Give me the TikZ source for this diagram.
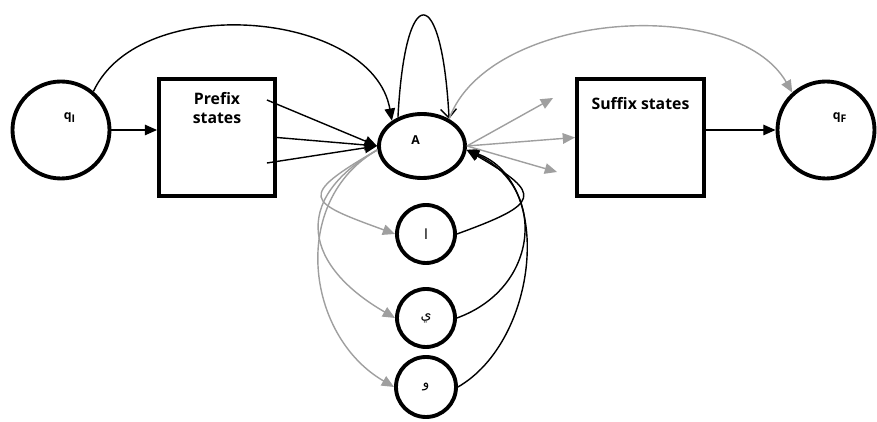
\documentclass[tikz,border=0pt]{standalone}
\usepackage{fontspec}
\setsansfont{Open Sans}
\newfontfamily\arabicfont[Script=Arabic]{DejaVu Sans}
\TeXXeTstate=1
\usetikzlibrary{automata,positioning,arrows.meta,shapes.geometric}

\tikzset{
  big state/.style={state,minimum size=1.94cm,line width=2.2pt},
  letter state/.style={state,minimum size=1.16cm,line width=2.2pt,font=\arabicfont\footnotesize},
  group/.style={draw,rectangle,line width=2.2pt,minimum height=2.34cm},
  hub/.style={draw,ellipse,line width=2.2pt,minimum width=1.72cm,minimum height=1.28cm},
  state name/.style={font=\sffamily\bfseries\scriptsize},
  group name/.style={font=\sffamily\bfseries\small,align=center},
  grey edge/.style={gray!75},
}

\begin{document}
\begin{tikzpicture}[>={Triangle[length=7pt,width=6pt]},line width=0.8pt,on grid,auto]
    \useasboundingbox (0,0) rectangle (17.54,-8.44);
    \node[big state] (qI) at (1.22,-2.6)
        [label={[state name,shift={(0.18,0.24)}]center:q{\footnotesize\textsubscript{I}}}] {};
    \node[group,minimum width=2.32cm] (pre) [below right=0.15cm and 3.12cm of qI]
        [label={[group name,below=5pt]north:Prefix\\states}] {};
    \node[hub]   (A)   [below right=0.17cm and 4.1cm of pre]
        [label={[state name,shift={(-0.13,0.12)}]center:A}] {};
    \node[group,minimum width=2.54cm] (suf) [above right=0.17cm and 4.37cm of A]
        [label={[group name,below=8pt]north:Suffix states}] {};
    \node[big state] (qF) [above right=0.15cm and 3.71cm of suf]
        [label={[state name,shift={(0.28,0.24)}]center:q{\footnotesize\textsubscript{F}}}] {};
    \node[letter state] (c1) [below right=1.76cm and 0.08cm of A] {\beginR ا\endR};
    \node[letter state] (c2) [below=1.68cm of c1] {\beginR ي\endR};
    \node[letter state,minimum size=1.2cm] (c3) [below=1.38cm of c2] {\beginR و\endR};

    % loose ends inside the prefix box and next to the suffix box
    \coordinate (p1) at ([shift={(-0.2,0.75)}]pre.east);
    \coordinate (p3) at ([shift={(-0.2,-0.51)}]pre.east);
    \coordinate (s1) at ([shift={(-0.44,0.79)}]suf.west);
    \coordinate (s3) at ([shift={(-0.36,-0.69)}]suf.west);

    \path[->]
    (qI.east)    edge                                   (qI.east -| pre.west)
    (qI.50)      edge [out=65,in=100,looseness=0.95]    (A.140)
    (p1)         edge                                   (A.west)
    (pre.east)   edge                                   (A.west)
    (p3)         edge                                   (A.west)
    (A.130)      edge [out=87,in=93,out distance=2.75cm,in distance=2.75cm,
                       -{Straight Barb[length=5pt,width=9pt]}] (A.45)
    (suf.east |- qF.west) edge                          (qF.west)
    (c1.east)    edge [out=20,in=-30,looseness=2.7]     (A.-5)
    (c2.east)    edge [out=20,in=-25,looseness=1.35]    (A.-5)
    (c3.east)    edge [out=30,in=-20,looseness=1]       (A.-5);

    \path[->,grey edge]
    (A.45)       edge [out=70,in=120,looseness=0.85]    (qF.132)
    (A.east)     edge                                   (s1)
                 edge                                   (suf.west)
                 edge                                   (s3)
    (A.185)      edge [out=210,in=160,looseness=2.8]    (c1.west)
                 edge [out=210,in=150,looseness=1.55]   (c2.west)
                 edge [out=210,in=150,looseness=1.1]    (c3.west);
\end{tikzpicture}
\end{document}
